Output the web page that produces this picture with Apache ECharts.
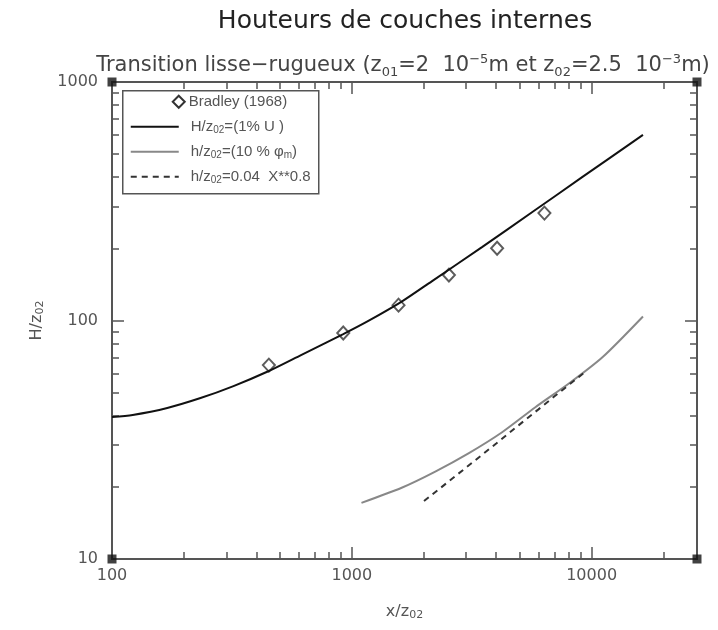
<!DOCTYPE html>
<html>
<head>
<meta charset="utf-8">
<script src="https://cdn.jsdelivr.net/npm/echarts@6/dist/echarts.min.js"></script>
<style>
  html, body { margin: 0; padding: 0; background: #fff; }
  #chart { width: 718px; height: 630px; }
</style>
</head>
<body>
<div id="chart"></div>
<script>
// Bradley (1968) measurements
const bradleyX = [451, 921, 1566, 2540, 4035, 6355];
const bradleyY = [65.0, 88.7, 116, 155, 201, 282];

// H/z02 from the 1% U criterion
const outerX = [100, 122, 170, 234, 321, 451, 614, 921, 1172, 1614, 2154, 3490, 5660, 9160, 16370];
const outerY = [39.4, 40.2, 43.0, 47.3, 53.1, 61.4, 71.6, 87.7, 99.6, 120, 146, 203, 285, 400, 600];

// h/z02 from the 10 % phi_m criterion
const innerX = [1097, 1614, 2218, 3078, 4233, 5825, 8090, 11120, 16370];
const innerY = [17.2, 19.9, 23.2, 27.8, 34.0, 43.3, 54.7, 70.3, 104];

// h/z02 = 0.04 X**0.8
const powX = [2000, 3000, 4000, 5000, 6000, 7000, 8000, 9440];
const powY = [17.5, 24.2, 30.5, 36.6, 42.4, 48.1, 53.5, 61.1];

// axis ranges and tick positions
const xRange = [100, 27500];
const yRange = [10, 1000];
const xMajor = [100, 1000, 10000];
const xMinor = [200, 300, 400, 500, 600, 700, 800, 900, 2000, 3000, 4000, 5000, 6000, 7000, 8000, 9000, 20000];
const yMajor = [10, 100, 1000];
const yMinor = [20, 30, 40, 50, 60, 70, 80, 90, 200, 300, 400, 500, 600, 700, 800, 900];

const FONT = 'Liberation Sans';
const WIDE_FONT = 'DejaVu Sans';
const AXIS_COLOR = '#555';
const TEXT_COLOR = '#555';

const pair = (xs, ys) => xs.map((x, i) => [x, ys[i]]);

const subRich = {
  sub: { fontSize: 10, fontFamily: FONT, color: TEXT_COLOR, verticalAlign: 'bottom', padding: [6, 0, 0, 0] },
  sup: { fontSize: 10, fontFamily: FONT, color: TEXT_COLOR, verticalAlign: 'top', padding: [0, 0, 6, 0] }
};
const nameRich = {
  sub: { fontSize: 11, fontFamily: WIDE_FONT, color: TEXT_COLOR, verticalAlign: 'bottom', padding: [7, 0, 0, 0] }
};

function xAxisDef(position, ticks, len, withLabel) {
  return {
    type: 'log', logBase: 10, min: xRange[0], max: xRange[1], position: position,
    axisLine: { show: true, onZero: false, lineStyle: { color: AXIS_COLOR, width: 2 } },
    axisTick: { show: true, inside: true, length: len, customValues: ticks, lineStyle: { color: AXIS_COLOR, width: 1.5 } },
    axisLabel: withLabel ? {
      show: true, customValues: xMajor, color: TEXT_COLOR, fontSize: 16, fontFamily: WIDE_FONT, margin: 9,
      formatter: v => String(Math.round(v))
    } : { show: false },
    splitLine: { show: false },
    minorTick: { show: false },
    name: withLabel ? 'x/z{sub|02}' : '',
    nameLocation: 'middle', nameGap: 44,
    nameTextStyle: { fontSize: 16, fontFamily: WIDE_FONT, color: TEXT_COLOR, rich: nameRich }
  };
}

function yAxisDef(position, ticks, len, withLabel) {
  return {
    type: 'log', logBase: 10, min: yRange[0], max: yRange[1], position: position,
    axisLine: { show: true, onZero: false, lineStyle: { color: AXIS_COLOR, width: 2 } },
    axisTick: { show: true, inside: true, length: len, customValues: ticks, lineStyle: { color: AXIS_COLOR, width: 1.5 } },
    axisLabel: withLabel ? {
      show: true, customValues: yMajor, color: TEXT_COLOR, fontSize: 16, fontFamily: WIDE_FONT, margin: 14,
      formatter: v => String(Math.round(v))
    } : { show: false },
    splitLine: { show: false },
    minorTick: { show: false },
    name: withLabel ? 'H/z{sub|02}' : '',
    nameLocation: 'middle', nameGap: 66, nameRotate: 90,
    nameTextStyle: { fontSize: 16, fontFamily: WIDE_FONT, color: TEXT_COLOR, rich: nameRich }
  };
}

const chart = echarts.init(document.getElementById('chart'), null, { renderer: 'canvas' });

const legendRows = [
  { y: 36, color: '#111', dash: null, text: 'H/z{sub|02}=(1% U )' },
  { y: 61, color: '#888', dash: null, text: 'h/z{sub|02}=(10 % \u03c6{sub|m})' },
  { y: 86, color: '#333', dash: [6, 5], text: 'h/z{sub|02}=0.04  X**0.8' }
];

const legendChildren = [
  { type: 'rect', shape: { x: 0, y: 0, width: 196, height: 103 },
    style: { fill: '#fff', stroke: AXIS_COLOR, lineWidth: 1.5 } },
  { type: 'polygon', shape: { points: [[56, 5], [62, 11], [56, 17], [50, 11]] },
    style: { fill: '#fff', stroke: '#333', lineWidth: 2 } },
  { type: 'text', x: 66, y: 11,
    style: { text: 'Bradley (1968)', font: '15px ' + FONT, fill: TEXT_COLOR, verticalAlign: 'middle' } }
];
legendRows.forEach(r => {
  legendChildren.push({ type: 'line', shape: { x1: 8, y1: r.y, x2: 56, y2: r.y },
    style: { stroke: r.color, lineWidth: 2, lineDash: r.dash } });
  legendChildren.push({ type: 'text', x: 68, y: r.y,
    style: { text: r.text, font: '15px ' + FONT, fill: TEXT_COLOR, verticalAlign: 'middle', rich: subRich } });
});

chart.setOption({
  backgroundColor: '#fff',
  animation: false,
  title: [
    { text: 'Houteurs de couches internes', left: 400, top: 4, textAlign: 'center',
      textStyle: { fontSize: 25, fontWeight: 'normal', fontFamily: WIDE_FONT, color: '#222' } },
    { text: 'Transition lisse\u2212rugueux (z{sub|01}=2  10{sup|\u22125}m et z{sub|02}=2.5  10{sup|\u22123}m)',
      left: 398, top: 48, textAlign: 'center',
      textStyle: { fontSize: 21, fontWeight: 'normal', fontFamily: WIDE_FONT, color: '#444', lineHeight: 26,
        rich: {
          sub: { fontSize: 13, fontFamily: WIDE_FONT, color: '#444', verticalAlign: 'bottom', padding: [9, 0, 0, 0] },
          sup: { fontSize: 13, fontFamily: WIDE_FONT, color: '#444', verticalAlign: 'top', padding: [0, 0, 9, 0] }
        } } }
  ],
  grid: { left: 112, top: 82, width: 585, height: 477, containLabel: false, outerBoundsMode: 'none' },
  xAxis: [
    xAxisDef('bottom', xMajor, 12, true),
    xAxisDef('bottom', xMinor, 7, false),
    xAxisDef('top', xMajor, 12, false),
    xAxisDef('top', xMinor, 7, false)
  ],
  yAxis: [
    yAxisDef('left', yMajor, 12, true),
    yAxisDef('left', yMinor, 7, false),
    yAxisDef('right', yMajor, 12, false),
    yAxisDef('right', yMinor, 7, false)
  ],
  graphic: [
    { type: 'group', left: 122, top: 90, children: legendChildren }
  ],
  series: [
    { name: 'H/z02=(1% U )', type: 'line', xAxisIndex: 0, yAxisIndex: 0, data: pair(outerX, outerY),
      smooth: 0.25, showSymbol: false, lineStyle: { color: '#111', width: 2 } },
    { name: 'h/z02=(10 % phi_m)', type: 'line', xAxisIndex: 0, yAxisIndex: 0, data: pair(innerX, innerY),
      smooth: 0.25, showSymbol: false, lineStyle: { color: '#888', width: 2 } },
    { name: 'h/z02=0.04 X**0.8', type: 'line', xAxisIndex: 0, yAxisIndex: 0, data: pair(powX, powY),
      showSymbol: false, lineStyle: { color: '#333', width: 2, type: [6, 5] } },
    { name: 'Bradley (1968)', type: 'scatter', xAxisIndex: 0, yAxisIndex: 0, data: pair(bradleyX, bradleyY),
      symbol: 'diamond', symbolSize: [12, 13],
      itemStyle: { color: '#fff', borderColor: '#333', borderWidth: 2 } },
    { name: 'frame corners', type: 'scatter', xAxisIndex: 0, yAxisIndex: 0, clip: false, silent: true,
      data: [[xRange[0], yRange[0]], [xRange[1], yRange[0]], [xRange[0], yRange[1]], [xRange[1], yRange[1]]],
      symbol: 'rect', symbolSize: 9, itemStyle: { color: '#111' } }
  ]
});
</script>
</body>
</html>
